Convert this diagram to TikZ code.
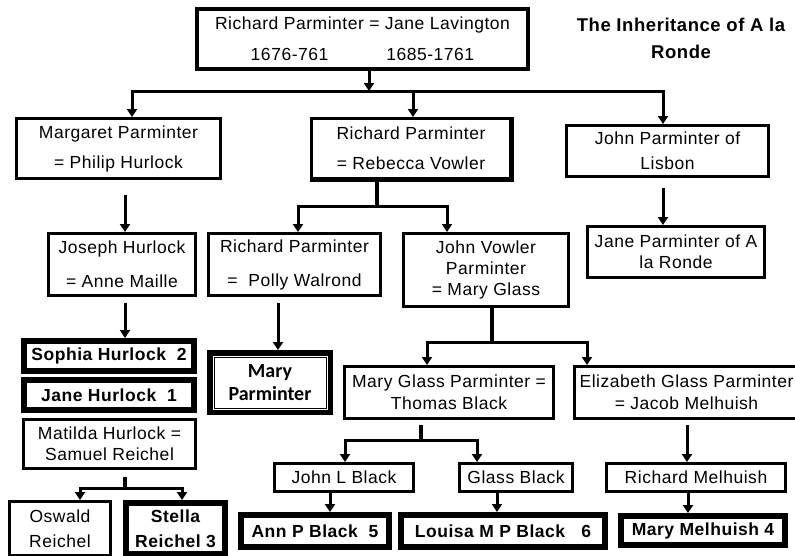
\documentclass[tikz,border=0pt]{standalone}
\usepackage{fontspec}
\setmainfont{Liberation Sans}[LetterSpace=3]
\newfontfamily\calfont{Carlito}
\usetikzlibrary{arrows.meta}

\tikzset{
  person/.style={draw, line width=3pt, align=center, inner sep=0pt,
    font=\fontsize{17.5}{21}\selectfont},
  heir/.style={person, line width=6pt, font=\fontsize{17.5}{21}\selectfont\bfseries},
  arr/.style={line width=3pt, -{Triangle[length=8pt,width=10pt]}},
  stem/.style={line width=4pt},
}

\begin{document}
\begin{tikzpicture}[x=1pt, y=-1pt]
  \useasboundingbox (0,0) rectangle (795,555);

  % Nodes
  \node[person, line width=4pt, minimum width=331pt, minimum height=60pt] (top) at (362.5,39)
    {Richard Parminter = Jane Lavington\\[10pt]1676-761\hspace{58pt}1685-1761};
  \node[align=center, font=\fontsize{18.5}{27}\selectfont\bfseries] (title) at (681,38)
    {The Inheritance of A la\\Ronde};

  \node[person, minimum width=204pt, minimum height=60pt] (marg) at (118.5,148.5)
    {Margaret Parminter\\[9pt]= Philip Hurlock};
  \node[person, minimum width=199pt, minimum height=60pt] (rr) at (411,148.5)
    {Richard Parminter\\[9pt]= Rebecca Vowler};
  \draw[line width=3pt] (rr.north east) -- (rr.south east) -- (rr.south west);
  \node[person, minimum width=202pt, minimum height=51pt] (jpl) at (667.5,151)
    {John Parminter of\\[4pt]Lisbon};

  \node[person, minimum width=147pt, minimum height=62pt] (joseph) at (122,264.5)
    {Joseph Hurlock\\[13pt]= Anne Maille};
  \node[person, minimum width=172pt, minimum height=62pt] (rpw) at (294.5,264.5)
    {Richard Parminter\\[13pt]=~~Polly Walrond};
  \node[person, minimum width=165pt, minimum height=73pt] (jvp) at (486,270)
    {John Vowler\\Parminter\\= Mary Glass};
  \node[person, minimum width=177pt, minimum height=51pt] (jalr) at (676,252)
    {Jane Parminter of A\\la Ronde};

  \node[heir, minimum width=170pt, minimum height=30pt] (sophia) at (109,356) {Sophia Hurlock~~2};
  \node[heir, minimum width=170pt, minimum height=30pt] (janeh) at (109,395) {Jane Hurlock~~1};
  \node[person, minimum width=172pt, minimum height=49pt] (matilda) at (109.5,444)
    {Matilda Hurlock =\\Samuel Reichel};
  \node[person, minimum width=101pt, minimum height=54pt] (oswald) at (60,528.5)
    {Oswald\\[4pt]Reichel};
  \node[heir, minimum width=99pt, minimum height=51pt] (stella) at (175.5,528.5)
    {Stella\\[4pt]Reichel 3};

  \node[heir, line width=5.5pt, minimum width=120.5pt, minimum height=59.5pt,
    font=\calfont\fontsize{20}{23}\selectfont\bfseries] (mp) at (270,382.5) {Mary\\Parminter};
  \draw[line width=0.9pt] ([shift={(7pt,-7pt)}]mp.north west) rectangle ([shift={(-7pt,7pt)}]mp.south east);

  \node[person, minimum width=209pt, minimum height=52pt] (mgp) at (449,392.5)
    {Mary Glass Parminter =\\[1pt]Thomas Black};
  \node[person, minimum width=224pt, minimum height=52pt] (egp) at (686.5,392.5)
    {Elizabeth Glass Parminter\\[1pt]= Jacob Melhuish};

  \node[person, minimum width=139pt, minimum height=28pt] (jlb) at (344,477.5) {John L Black};
  \node[person, minimum width=113pt, minimum height=28pt] (gb) at (516,477.5) {Glass Black};
  \node[person, minimum width=179pt, minimum height=28pt] (rm) at (696,477.5) {Richard Melhuish};

  \node[heir, minimum width=148pt, minimum height=32pt] (apb) at (315,531) {Ann P Black~~5};
  \node[heir, minimum width=204pt, minimum height=32pt] (lmpb) at (503,531) {Louisa M P Black~~~6};
  \node[heir, minimum width=164pt, minimum height=29pt] (mm) at (703,530.5) {Mary Melhuish 4};

  % Edges
  \coordinate (f1) at (369,91);
  \draw[arr] (top.south -| f1) -- (f1);
  \foreach \c/\dx in {marg/13.5, rr/2, jpl/-4.5}
    \draw[arr] (f1) -| ([xshift=\dx pt]\c.north);

  \coordinate (f2) at (377,206);
  \draw[stem] (rr.south -| f2) -- (f2);
  \foreach \c/\dx in {rpw/3.5, jvp/-39}
    \draw[arr] (f2) -| ([xshift=\dx pt]\c.north);

  \coordinate (f3) at (125,488);
  \draw[stem] ([yshift=-7pt]matilda.south -| f3) -- (f3);
  \foreach \c/\dx in {oswald/20, stella/6.5}
    \draw[arr] (f3) -| ([xshift=\dx pt]\c.north);

  \coordinate (f4) at (492,342);
  \draw[stem] (jvp.south -| f4) -- (f4);
  \foreach \c/\dx in {mgp/-22, egp/-99.5}
    \draw[arr] (f4) -| ([xshift=\dx pt]\c.north);

  \coordinate (f5) at (421,440);
  \draw[stem] ([yshift=-5pt]mgp.south -| f5) -- (f5);
  \foreach \c/\dx in {jlb/1, gb/-39}
    \draw[arr] (f5) -| ([xshift=\dx pt]\c.north);

  \draw[arr] ([shift={(3pt,-15pt)}]marg.south -| joseph) -- ([xshift=3pt]joseph.north);
  \draw[arr] ([shift={(3pt,-6pt)}]joseph.south) -- ([xshift=16pt]sophia.north);
  \draw[arr] ([shift={(8pt,-6pt)}]rpw.south -| mp) -- ([xshift=8pt]mp.north);
  \draw[arr] ([shift={(-13pt,-10pt)}]jpl.south -| jalr) -- ([xshift=-13pt]jalr.north);
  \draw[arr] ([shift={(-9pt,-5pt)}]egp.south -| rm) -- ([xshift=-9pt]rm.north);
  \draw[arr] ([xshift=15pt]jlb.south -| apb) -- ([xshift=15pt]apb.north);
  \draw[arr] ([xshift=-6pt]gb.south -| lmpb) -- ([xshift=-6pt]lmpb.north);
  \draw[arr] ([xshift=-15pt]rm.south -| mm) -- ([xshift=-15pt]mm.north);
\end{tikzpicture}
\end{document}
